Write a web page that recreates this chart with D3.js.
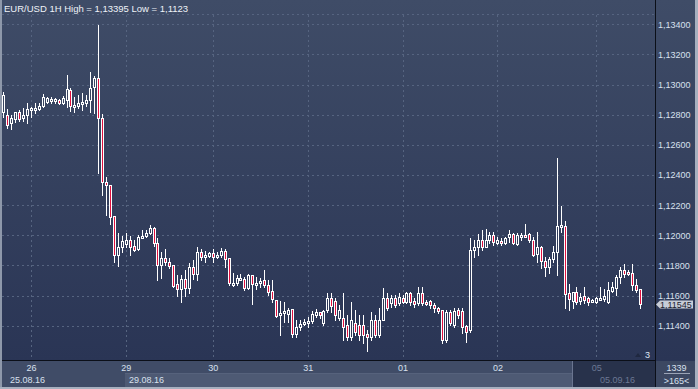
<!DOCTYPE html>
<html><head><meta charset="utf-8">
<script src="https://cdn.jsdelivr.net/npm/d3@7/dist/d3.min.js"></script>
<style>html,body{margin:0;padding:0;background:#2f3b55;overflow:hidden}svg{display:block}</style>
</head><body><svg id="c" width="698" height="389"></svg>
<script>
const title = "EUR/USD 1H High = 1,13395 Low = 1,1123";
const openP = [1.12818,1.12798,1.12743,1.12769,1.12816,1.12776,1.12798,1.12831,1.12831,1.12838,
1.12860,1.12886,1.12891,1.12894,1.12897,1.12876,1.12897,1.12964,1.12853,1.12858,
1.12871,1.12876,1.12897,1.12986,1.13041,1.12776,1.12352,1.12334,1.12128,1.11869,
1.11924,1.11942,1.11969,1.11929,1.11907,1.11987,1.11995,1.12013,1.12046,1.11947,
1.11803,1.11847,1.11825,1.11803,1.11675,1.11642,1.11708,1.11649,1.11792,1.11743,
1.11887,1.11858,1.11863,1.11881,1.11858,1.11869,1.11898,1.11847,1.11670,1.11682,
1.11708,1.11708,1.11652,1.11737,1.11670,1.11682,1.11704,1.11670,1.11633,1.11571,
1.11471,1.11483,1.11478,1.11509,1.11345,1.11390,1.11416,1.11423,1.11434,1.11471,
1.11493,1.11416,1.11505,1.11582,1.11564,1.11450,1.11450,1.11405,1.11327,1.11416,
1.11405,1.11405,1.11345,1.11327,1.11438,1.11339,1.11438,1.11582,1.11549,1.11582,
1.11549,1.11582,1.11560,1.11615,1.11564,1.11549,1.11615,1.11560,1.11564,1.11538,
1.11516,1.11505,1.11306,1.11493,1.11405,1.11505,1.11500,1.11398,1.11372,1.11902,
1.11924,1.11969,1.11924,1.11969,1.12002,1.11951,1.11964,1.11947,1.11987,1.12009,
1.11942,1.11995,1.12002,1.12009,1.11969,1.11876,1.11924,1.11830,1.11788,1.11841,
1.11887,1.12053,1.12064,1.11615,1.11566,1.11626,1.11566,1.11597,1.11582,1.11566,
1.11560,1.11576,1.11577,1.11560,1.11633,1.11649,1.11725,1.11770,1.11759,1.11748,
1.11670,1.11642];
const highP = [1.12951,1.12838,1.12798,1.12820,1.12831,1.12842,1.12880,1.12853,1.12880,1.12876,
1.12935,1.12919,1.12919,1.12913,1.12902,1.12926,1.13063,1.12975,1.12919,1.12931,
1.12942,1.12931,1.13085,1.13057,1.13395,1.12803,1.12389,1.12334,1.12128,1.12017,
1.11995,1.12015,1.11995,1.11969,1.12002,1.12035,1.12035,1.12068,1.12057,1.11980,
1.11891,1.11909,1.11847,1.11803,1.11737,1.11737,1.11770,1.11814,1.11836,1.11920,
1.11909,1.11896,1.11887,1.11907,1.11891,1.11914,1.11909,1.11851,1.11748,1.11737,
1.11743,1.11725,1.11743,1.11737,1.11725,1.11715,1.11770,1.11704,1.11704,1.11571,
1.11564,1.11560,1.11516,1.11509,1.11438,1.11438,1.11445,1.11460,1.11500,1.11509,
1.11493,1.11505,1.11615,1.11615,1.11582,1.11538,1.11615,1.11471,1.11560,1.11505,
1.11471,1.11471,1.11372,1.11493,1.11471,1.11516,1.11648,1.11615,1.11604,1.11604,
1.11615,1.11604,1.11626,1.11626,1.11582,1.11659,1.11659,1.11571,1.11571,1.11549,
1.11526,1.11505,1.11505,1.11505,1.11516,1.11516,1.11516,1.11405,1.11980,1.11969,
1.12009,1.12035,1.12040,1.12024,1.12024,1.11991,1.11980,1.11987,1.12035,1.12013,
1.12013,1.12013,1.12075,1.12013,1.11987,1.12024,1.11929,1.11854,1.11854,1.11929,
1.12511,1.12194,1.12095,1.11675,1.11626,1.11659,1.11615,1.11659,1.11593,1.11577,
1.11593,1.11659,1.11642,1.11692,1.11692,1.11737,1.11788,1.11810,1.11770,1.11810,
1.11708,1.11642];
const lowP = [1.12785,1.12714,1.12705,1.12754,1.12758,1.12760,1.12743,1.12783,1.12809,1.12831,
1.12853,1.12876,1.12876,1.12876,1.12871,1.12871,1.12853,1.12826,1.12820,1.12842,
1.12831,1.12858,1.12816,1.12809,1.12411,1.12267,1.12135,1.12075,1.11825,1.11796,
1.11891,1.11924,1.11869,1.11896,1.11902,1.11980,1.11987,1.12009,1.11929,1.11704,
1.11715,1.11803,1.11781,1.11655,1.11599,1.11560,1.11599,1.11615,1.11708,1.11704,
1.11836,1.11825,1.11854,1.11825,1.11847,1.11858,1.11792,1.11670,1.11664,1.11670,
1.11704,1.11637,1.11642,1.11542,1.11642,1.11659,1.11659,1.11604,1.11560,1.11458,
1.11339,1.11427,1.11427,1.11327,1.11327,1.11372,1.11405,1.11394,1.11420,1.11456,
1.11450,1.11405,1.11493,1.11493,1.11438,1.11438,1.11306,1.11306,1.11306,1.11339,
1.11306,1.11286,1.11230,1.11306,1.11327,1.11327,1.11438,1.11505,1.11526,1.11526,
1.11538,1.11549,1.11549,1.11538,1.11526,1.11538,1.11538,1.11538,1.11516,1.11493,
1.11483,1.11284,1.11294,1.11405,1.11394,1.11450,1.11350,1.11294,1.11361,1.11858,
1.11869,1.11902,1.11920,1.11947,1.11936,1.11942,1.11936,1.11942,1.11958,1.11942,
1.11936,1.11969,1.11987,1.11958,1.11863,1.11825,1.11781,1.11730,1.11752,1.11825,
1.11737,1.12022,1.11516,1.11505,1.11516,1.11544,1.11544,1.11553,1.11538,1.11558,
1.11553,1.11571,1.11566,1.11553,1.11626,1.11604,1.11682,1.11721,1.11737,1.11637,
1.11626,1.11520];
const closeP = [1.12931,1.12732,1.12776,1.12816,1.12769,1.12798,1.12838,1.12842,1.12842,1.12860,
1.12919,1.12909,1.12904,1.12904,1.12876,1.12909,1.12968,1.12858,1.12864,1.12880,
1.12886,1.12897,1.12979,1.13041,1.12776,1.12356,1.12334,1.12123,1.11869,1.11924,
1.11964,1.11969,1.11924,1.11902,1.11987,1.11997,1.12013,1.12046,1.11947,1.11803,
1.11847,1.11825,1.11796,1.11664,1.11642,1.11708,1.11649,1.11792,1.11743,1.11887,
1.11854,1.11869,1.11881,1.11854,1.11869,1.11898,1.11841,1.11682,1.11686,1.11719,
1.11719,1.11649,1.11737,1.11675,1.11682,1.11697,1.11670,1.11626,1.11576,1.11465,
1.11485,1.11498,1.11505,1.11345,1.11390,1.11412,1.11427,1.11434,1.11478,1.11493,
1.11471,1.11500,1.11582,1.11531,1.11471,1.11505,1.11394,1.11327,1.11438,1.11361,
1.11339,1.11339,1.11327,1.11438,1.11339,1.11438,1.11582,1.11516,1.11582,1.11538,
1.11589,1.11560,1.11615,1.11560,1.11542,1.11615,1.11549,1.11549,1.11538,1.11516,
1.11500,1.11306,1.11493,1.11416,1.11500,1.11471,1.11390,1.11361,1.11902,1.11924,
1.11969,1.11920,1.11969,1.12002,1.11958,1.11969,1.11947,1.11980,1.12009,1.11951,
1.12002,1.12002,1.11991,1.11969,1.11869,1.11924,1.11830,1.11788,1.11841,1.11887,
1.12062,1.12068,1.11609,1.11577,1.11622,1.11560,1.11593,1.11571,1.11560,1.11571,
1.11582,1.11586,1.11599,1.11637,1.11655,1.11725,1.11770,1.11743,1.11743,1.11670,
1.11637,1.11545];
const priceTicks = [1.134,1.132,1.130,1.128,1.126,1.124,1.122,1.120,1.118,1.116,1.114];
const dayLabels = ["26","29","30","31","01","02","05"];
const dayIndex = [7,31,53,77,101,125,150];
const dateLabels = ["25.08.16","29.08.16","05.09.16"];
const lastPrice = 1.11545;
const barsInfo = ["1339", ">165<"];
const scrollMark = "3";

const W = 698, H = 389, plotR = 655, plotB = 360;
const svg = d3.select("#c").attr("shape-rendering","crispEdges");
const FONT = "'Liberation Sans', Arial, sans-serif";
const defs = svg.append("defs");
const g1 = defs.append("linearGradient").attr("id","bg").attr("gradientUnits","userSpaceOnUse")
  .attr("x1",0).attr("y1",0).attr("x2",0).attr("y2",plotB);
g1.append("stop").attr("offset",0).attr("stop-color","#3f4c67");
g1.append("stop").attr("offset",1).attr("stop-color","#2a3555");

svg.append("rect").attr("x",0).attr("y",0).attr("width",W).attr("height",H).attr("fill","url(#bg)");

const n = openP.length;
const x = d3.scaleLinear().domain([0, n-1]).range([3.3, 639.7]);
const y = d3.scaleLinear().domain([1.114, 1.134]).range([325.8, 24.3]);

// grid
const grid = svg.append("g").attr("stroke","#566480").attr("stroke-width",1).attr("stroke-dasharray","2,3");
grid.selectAll("line.h").data(priceTicks).join("line").attr("class","h")
  .attr("x1",2).attr("x2",plotR).attr("y1",d=>Math.round(y(d))+0.5).attr("y2",d=>Math.round(y(d))+0.5);
grid.append("line").attr("x1",2).attr("x2",plotR).attr("y1",14.5).attr("y2",14.5);
grid.selectAll("line.v").data(dayIndex).join("line").attr("class","v")
  .attr("x1",d=>Math.round(x(d))+0.5).attr("x2",d=>Math.round(x(d))+0.5).attr("y1",15).attr("y2",plotB);

// candles
const data = d3.range(n).map(i=>({o:openP[i],h:highP[i],l:lowP[i],c:closeP[i],i}));
const cg = svg.append("g");
data.forEach(d=>{
  const cx = Math.round(x(d.i));
  const yh = Math.round(y(d.h)), yl = Math.round(y(d.l));
  cg.append("rect").attr("x",cx).attr("width",1).attr("y",yh).attr("height",Math.max(1,yl-yh+1)).attr("fill","#ffffff");
  let top = Math.round(y(Math.max(d.o,d.c))), bot = Math.round(y(Math.min(d.o,d.c)));
  if (bot - top < 2) { bot = top + 2; }
  cg.append("rect").attr("x",cx-1).attr("width",3).attr("y",top).attr("height",bot-top+1).attr("fill","#ffffff");
  if (bot-top-1 > 0) {
    cg.append("rect").attr("x",cx).attr("width",1).attr("y",top+1).attr("height",bot-top-1)
      .attr("fill", d.c >= d.o ? "url(#bg)" : "#e0103e");
  }
});

// title
svg.append("text").attr("x",4).attr("y",12).attr("font-family",FONT).attr("font-size","9.5px")
  .attr("fill","#eef2f8").text(title);

// scroll marker
svg.append("path").attr("d","M635,357 L638,353 L641,357 Z").attr("fill","#1f2840").attr("shape-rendering","auto");
svg.append("text").attr("x",645).attr("y",358).attr("font-family",FONT).attr("font-size","9px")
  .attr("fill","#dfe7f5").text(scrollMark);

// bottom bands
svg.append("rect").attr("x",0).attr("y",361).attr("width",plotR).attr("height",26).attr("fill","#404c67");
svg.append("rect").attr("x",125).attr("y",374).attr("width",448).attr("height",13).attr("fill","#4e5a74");
svg.append("line").attr("x1",125).attr("x2",573).attr("y1",373.5).attr("y2",373.5).attr("stroke","#56627c");
svg.append("rect").attr("x",573).attr("y",361).attr("width",82).attr("height",26).attr("fill","#28324b");
svg.append("line").attr("x1",572.5).attr("x2",572.5).attr("y1",361).attr("y2",387).attr("stroke","#6a7590");

// x axis
const xAxis = d3.axisBottom(x).tickValues(dayIndex).tickFormat((d,i)=>dayLabels[i]).tickSize(0).tickPadding(4);
const xg = svg.append("g").attr("transform",`translate(0,${plotB+1})`).call(xAxis);
xg.select(".domain").remove();
xg.selectAll("text").attr("font-family",FONT).attr("font-size","9px")
  .attr("fill",(d,i)=> i===dayLabels.length-1 ? "#6c7893" : "#d8e0ee");

const dateX = [10,129,600];
svg.selectAll("text.date").data(dateLabels).join("text").attr("class","date")
  .attr("x",(d,i)=>dateX[i]).attr("y",382.5).attr("font-family",FONT).attr("font-size","9px")
  .attr("fill",(d,i)=> i===2 ? "#6c7893" : "#d8e0ee").text(d=>d);

// y axis
const yAxis = d3.axisRight(y).tickValues(priceTicks).tickSize(0).tickPadding(3)
  .tickFormat(d=>d3.format(".5f")(d).replace(".",","));
const yg = svg.append("g").attr("transform",`translate(${plotR},0)`).call(yAxis);
yg.select(".domain").remove();
yg.selectAll("text").attr("font-family",FONT).attr("font-size","9px").attr("fill","#d8e0ee");

// price tag
const ly = Math.round(y(lastPrice));
svg.append("path").attr("shape-rendering","auto")
  .attr("d",`M656,${ly+0.5} L660,${ly-3.5} L693,${ly-3.5} L693,${ly+4.5} L660,${ly+4.5} Z`)
  .attr("fill","#c8cdd7");
svg.append("text").attr("x",660).attr("y",ly+3.5).attr("font-family",FONT).attr("font-size","9px")
  .attr("fill","#1b2130").text(d3.format(".5f")(lastPrice).replace(".",","));

// right-bottom box
svg.append("rect").attr("x",656).attr("y",361).attr("width",39).attr("height",26).attr("fill","#3c4862");
svg.append("text").attr("x",676.5).attr("y",370.5).attr("text-anchor","middle").attr("font-family",FONT)
  .attr("font-size","9px").attr("fill","#d8e0ee").text(barsInfo[0]);
svg.append("line").attr("x1",664).attr("x2",690).attr("y1",373.5).attr("y2",373.5).attr("stroke","#9aa4b6");
svg.append("text").attr("x",676.5).attr("y",383.5).attr("text-anchor","middle").attr("font-family",FONT)
  .attr("font-size","9px").attr("fill","#d8e0ee").text(barsInfo[1]);

// frame lines
svg.append("line").attr("x1",0).attr("x2",plotR+1).attr("y1",plotB+0.5).attr("y2",plotB+0.5).attr("stroke","#0b0f18");
svg.append("line").attr("x1",plotR+0.5).attr("x2",plotR+0.5).attr("y1",0).attr("y2",387).attr("stroke","#0b0f18");
svg.append("rect").attr("x",0).attr("y",0).attr("width",2).attr("height",H).attr("fill","#8e98aa");
svg.append("rect").attr("x",695).attr("y",0).attr("width",3).attr("height",H).attr("fill","#a7b0bf");
svg.append("rect").attr("x",0).attr("y",387).attr("width",W).attr("height",2).attr("fill","#a7b0bf");
</script></body></html>
